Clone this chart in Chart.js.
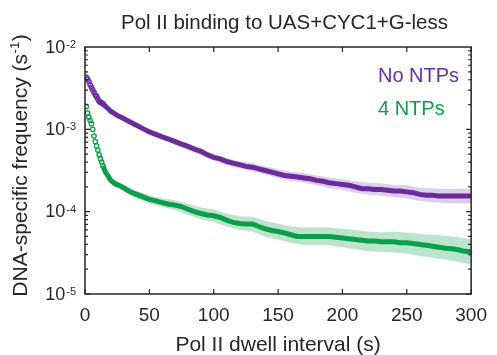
<!DOCTYPE html>
<html><head><meta charset="utf-8">
<script src="https://cdn.jsdelivr.net/npm/chart.js@4/dist/chart.umd.min.js"></script>
<style>html,body{margin:0;padding:0;background:#fff;}#c{display:block;}</style>
</head><body>
<canvas id="c" width="497" height="355"></canvas>
<script>
const chartTitle = 'Pol II binding to UAS+CYC1+G-less';
const xTitle = 'Pol II dwell interval (s)';
const yTitleMain = 'DNA-specific frequency (s';
const yTitleExp = '-1';
const yTitleEnd = ')';
const seriesNames = ['No NTPs', '4 NTPs'];
const xTickValues = [0, 50, 100, 150, 200, 250, 300];
const yTickValues = [1e-5, 1e-4, 1e-3, 1e-2];
const yTickExps = ['-5', '-4', '-3', '-2'];

const times = [1,2,3,4,5,6,7,8,9,10,11,12,13,14,16,18,20,23,26,
  30,35,40,45,50,55,60,65,70,75,80,85,90,95,100,105,110,115,120,125,130,135,140,145,150,
  155,160,165,170,175,180,185,190,195,200,205,210,215,220,225,230,235,240,245,250,
  255,260,265,270,275,280,285,290,295,300];

const noNTP = [4.27e-3,4.07e-3,3.8e-3,3.47e-3,3.24e-3,3.02e-3,2.82e-3,2.63e-3,2.51e-3,2.34e-3,2.19e-3,2.14e-3,2.09e-3,2.04e-3,
  1.9e-3,1.78e-3,1.66e-3,1.55e-3,1.45e-3,
  1.35e-3,1.23e-3,1.12e-3,1.02e-3,9.3e-4,8.7e-4,8.1e-4,7.6e-4,7.1e-4,6.6e-4,6.2e-4,5.75e-4,5.4e-4,4.9e-4,4.57e-4,
  4.37e-4,4.07e-4,3.89e-4,3.72e-4,3.55e-4,3.47e-4,3.31e-4,3.16e-4,3.02e-4,2.88e-4,
  2.75e-4,2.69e-4,2.63e-4,2.57e-4,2.51e-4,2.4e-4,2.34e-4,2.24e-4,2.19e-4,2.14e-4,2.09e-4,2.0e-4,1.9e-4,1.9e-4,
  1.86e-4,1.86e-4,1.82e-4,1.78e-4,1.78e-4,1.74e-4,1.7e-4,1.62e-4,1.58e-4,1.58e-4,1.55e-4,1.55e-4,1.55e-4,1.55e-4,1.55e-4,1.55e-4];

const fourNTP = [1.9e-3,1.58e-3,1.41e-3,1.29e-3,1.17e-3,1.0e-3,8.3e-4,7.1e-4,6.3e-4,5.6e-4,4.9e-4,4.4e-4,4.0e-4,3.6e-4,
  3.0e-4,2.7e-4,2.4e-4,2.2e-4,2.1e-4,
  1.95e-4,1.74e-4,1.62e-4,1.51e-4,1.41e-4,1.35e-4,1.29e-4,1.23e-4,1.2e-4,1.15e-4,1.07e-4,1.0e-4,9.5e-5,9.1e-5,8.9e-5,
  8.5e-5,7.9e-5,7.4e-5,7.2e-5,7.1e-5,7.1e-5,6.6e-5,6.2e-5,5.9e-5,5.75e-5,
  5.5e-5,5.25e-5,5.0e-5,5.0e-5,5.0e-5,5.0e-5,5.0e-5,5.0e-5,4.9e-5,4.8e-5,4.7e-5,4.6e-5,4.5e-5,4.4e-5,
  4.4e-5,4.3e-5,4.3e-5,4.3e-5,4.2e-5,4.2e-5,4.1e-5,4.0e-5,3.9e-5,3.8e-5,3.7e-5,3.6e-5,3.55e-5,3.45e-5,3.3e-5,3.25e-5];

const bandTimes = [1,5,10,15,20,30,40,50,60,70,80,90,100,110,120,130,140,150,160,170,180,190,200,210,220,230,240,250,260,270,280,290,300];
const noNTPLo = [4.07e-3,3.09e-3,2.24e-3,1.88e-3,1.58e-3,1.27e-3,1.06e-3,8.7e-4,7.6e-4,6.5e-4,5.7e-4,4.9e-4,4.17e-4,3.67e-4,3.35e-4,3.09e-4,2.82e-4,2.54e-4,2.37e-4,2.24e-4,2.09e-4,1.93e-4,1.84e-4,1.7e-4,1.62e-4,1.57e-4,1.5e-4,1.45e-4,1.35e-4,1.3e-4,1.27e-4,1.26e-4,1.26e-4];
const noNTPHi = [4.47e-3,3.39e-3,2.45e-3,2.07e-3,1.74e-3,1.43e-3,1.19e-3,1.0e-3,8.7e-4,7.7e-4,6.7e-4,5.9e-4,5.0e-4,4.5e-4,4.1e-4,3.89e-4,3.55e-4,3.27e-4,3.05e-4,2.95e-4,2.75e-4,2.6e-4,2.48e-4,2.34e-4,2.24e-4,2.21e-4,2.11e-4,2.09e-4,1.95e-4,1.93e-4,1.88e-4,1.9e-4,1.9e-4];
const fourNTPLo = [1.82e-3,1.12e-3,5.4e-4,3.09e-4,2.21e-4,1.78e-4,1.46e-4,1.26e-4,1.14e-4,1.05e-4,9.2e-5,8.1e-5,7.5e-5,6.6e-5,6.0e-5,5.75e-5,4.95e-5,4.6e-5,4.2e-5,3.9e-5,3.9e-5,3.9e-5,3.7e-5,3.5e-5,3.3e-5,3.24e-5,3.2e-5,3.1e-5,2.9e-5,2.75e-5,2.6e-5,2.45e-5,2.26e-5];
const fourNTPHi = [2.0e-3,1.23e-3,5.9e-4,3.55e-4,2.6e-4,2.14e-4,1.8e-4,1.58e-4,1.46e-4,1.38e-4,1.24e-4,1.12e-4,1.06e-4,9.5e-5,8.8e-5,8.7e-5,7.7e-5,7.2e-5,6.6e-5,6.4e-5,6.4e-5,6.4e-5,6.2e-5,6.0e-5,5.75e-5,5.6e-5,5.7e-5,5.6e-5,5.4e-5,5.25e-5,5.1e-5,4.9e-5,4.6e-5];

const PURPLE = '#6a2c9b';
const GREEN = '#0c9e4c';
const PURPLE_BAND = 'rgba(150,105,195,0.32)';
const GREEN_BAND = 'rgba(40,175,95,0.32)';
const AXIS = '#262626';
const FONT = "'Liberation Sans', Arial, Helvetica, sans-serif";

const pts = (xs, ys) => xs.map((t, i) => ({x: t, y: ys[i]}));

function seriesDataset(label, values, color) {
  return {
    label, data: pts(times, values),
    borderColor: color, borderWidth: 5, fill: false, tension: 0,
    pointStyle: 'circle',
    pointRadius: c => (c.raw && c.raw.x < 15 ? 2.2 : 0),
    pointBorderWidth: 1.3, pointBorderColor: color, pointBackgroundColor: 'rgba(255,255,255,0)',
    segment: { borderColor: c => (c.p0.parsed.x < 14 ? 'rgba(0,0,0,0)' : color) }
  };
}
function bandDatasets(lo, hi, color) {
  return [
    { label: 'lo', data: pts(bandTimes, lo), borderWidth: 0, borderColor: 'rgba(0,0,0,0)', pointRadius: 0, fill: false },
    { label: 'hi', data: pts(bandTimes, hi), borderWidth: 0, borderColor: 'rgba(0,0,0,0)', pointRadius: 0, fill: '-1', backgroundColor: color }
  ];
}

const deco = {
  id: 'deco',
  afterDatasetsDraw(chart) {
    const {ctx, chartArea: a, scales: {x, y}} = chart;
    ctx.save();
    ctx.strokeStyle = AXIS; ctx.lineWidth = 1.2;
    ctx.beginPath();
    xTickValues.forEach(v => {
      const px = x.getPixelForValue(v);
      ctx.moveTo(px, a.bottom); ctx.lineTo(px, a.bottom - 5);
      ctx.moveTo(px, a.top); ctx.lineTo(px, a.top + 5);
    });
    for (let e = -5; e <= -3; e++) {
      for (let k = 1; k <= 9; k++) {
        const py = y.getPixelForValue(k * Math.pow(10, e));
        const L = k === 1 ? 5 : 3;
        ctx.moveTo(a.left, py); ctx.lineTo(a.left + L, py);
        ctx.moveTo(a.right, py); ctx.lineTo(a.right - L, py);
      }
    }
    ctx.stroke();
    ctx.lineWidth = 1.5;
    ctx.strokeRect(a.left, a.top, a.right - a.left, a.bottom - a.top);

    ctx.fillStyle = AXIS;
    yTickValues.forEach((v, i) => {
      const py = y.getPixelForValue(v);
      ctx.font = '18px ' + FONT;
      const w10 = ctx.measureText('10').width;
      ctx.font = '11px ' + FONT;
      const we = ctx.measureText(yTickExps[i]).width;
      const right = a.left - 9;
      ctx.textAlign = 'left'; ctx.textBaseline = 'alphabetic';
      ctx.font = '18px ' + FONT;
      ctx.fillText('10', right - we - w10 - 1, py + 5.5);
      ctx.font = '11px ' + FONT;
      ctx.fillText(yTickExps[i], right - we, py + 1);
    });
    ctx.font = '20.5px ' + FONT; ctx.textAlign = 'center'; ctx.textBaseline = 'alphabetic';
    ctx.fillText(chartTitle, 284.5, 29);
    ctx.font = '21px ' + FONT;
    ctx.fillText(xTitle, (a.left + a.right) / 2, 351);
    ctx.save();
    ctx.translate(27, 165.5);
    ctx.rotate(-Math.PI / 2);
    ctx.font = '21px ' + FONT;
    const w1 = ctx.measureText(yTitleMain).width;
    const w3 = ctx.measureText(yTitleEnd).width;
    ctx.font = '13px ' + FONT;
    const w2 = ctx.measureText(yTitleExp).width;
    let sx = -(w1 + w2 + w3 + 1) / 2;
    ctx.textAlign = 'left';
    ctx.font = '21px ' + FONT; ctx.fillText(yTitleMain, sx, 0); sx += w1 + 0.5;
    ctx.font = '13px ' + FONT; ctx.fillText(yTitleExp, sx, -8); sx += w2 + 0.5;
    ctx.font = '21px ' + FONT; ctx.fillText(yTitleEnd, sx, 0);
    ctx.restore();
    ctx.font = '20px ' + FONT; ctx.textAlign = 'left';
    ctx.fillStyle = PURPLE; ctx.fillText(seriesNames[0], 378, 82);
    ctx.fillStyle = GREEN; ctx.fillText(seriesNames[1], 378, 115);
    ctx.restore();
  }
};

new Chart(document.getElementById('c'), {
  type: 'line',
  data: {
    datasets: [
      seriesDataset(seriesNames[0], noNTP, PURPLE),
      seriesDataset(seriesNames[1], fourNTP, GREEN),
      ...bandDatasets(noNTPLo, noNTPHi, PURPLE_BAND),
      ...bandDatasets(fourNTPLo, fourNTPHi, GREEN_BAND)
    ]
  },
  options: {
    responsive: false, animation: false, devicePixelRatio: 1,
    layout: { padding: { left: 0, right: 23, top: 47, bottom: 0 } },
    plugins: { legend: { display: false }, title: { display: false }, tooltip: { enabled: false } },
    scales: {
      x: {
        type: 'linear', min: 0, max: 300,
        afterBuildTicks: s => { s.ticks = xTickValues.map(v => ({ value: v })); },
        ticks: { color: AXIS, font: { size: 19, family: FONT }, padding: 10, maxRotation: 0, autoSkip: false, callback: v => String(v) },
        grid: { display: false, drawTicks: false },
        border: { display: false },
        afterFit: s => { s.height = 61; }
      },
      y: {
        type: 'logarithmic', min: 1e-5, max: 1e-2,
        ticks: { display: false },
        grid: { display: false, drawTicks: false },
        border: { display: false },
        afterFit: s => { s.width = 85; }
      }
    }
  },
  plugins: [deco]
});
</script>
</body></html>
